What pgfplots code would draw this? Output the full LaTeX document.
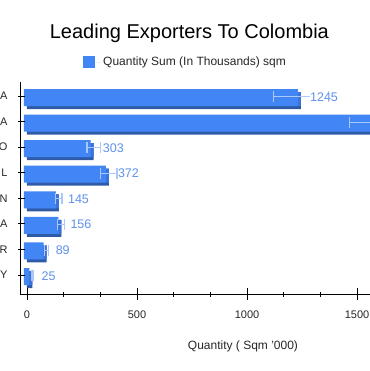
\documentclass[border=0pt]{standalone}
\usepackage{fontspec}
\setmainfont{Liberation Sans}
\usepackage{pgfplots}
\pgfplotsset{compat=1.18}
\usetikzlibrary{calc}
\definecolor{front}{RGB}{66,133,244}
\definecolor{darkb}{RGB}{46,90,168}
\definecolor{side}{RGB}{58,115,220}
\definecolor{errb}{RGB}{170,200,250}
\definecolor{lblb}{RGB}{95,145,235}
\begin{document}
\begin{tikzpicture}
\begin{axis}[
  name=ax,
  clip=false,
  scale only axis,
  width=350bp, height=212bp,
  xmin=-31.8, xmax=1559,
  ymin=-0.743, ymax=7.548,
  axis x line=bottom, axis y line=left,
  axis line style={-, black, line width=0.8bp},
  xtick={0,500,1000,1500},
  minor x tick num=2,
  ytick={0,1,2,3,4,5,6,7},
  yticklabels={Y,R,A,N,L,O,A,A},
  tick align=center,
  xtick style={black, line width=0.8bp},
  ytick style={draw=none},
  major tick length=12bp,
  minor tick length=5bp,
  /pgf/number format/1000 sep={},
  /pgf/number format/assume math mode=true,
  xticklabel style={font=\fontsize{11bp}{13bp}\selectfont, text=black!85, yshift=-7bp},
  yticklabel style={font=\fontsize{11bp}{13bp}\selectfont, text=black!85, xshift=-3bp},
  xlabel={Quantity ( Sqm '000)},
  xlabel style={at={(axis description cs:0.637,-0.245)}, anchor=center, font=\fontsize{12bp}{14bp}\selectfont, text=black!85},
  title={Leading Exporters To Colombia},
  every axis title/.style={at={(axis description cs:0.484,1.203)}, anchor=base, font=\fontsize{20bp}{24bp}\selectfont},
  legend style={draw=none, fill=none, inner sep=0pt, at={(axis description cs:0.18,1.094)}, anchor=west, font=\fontsize{12bp}{14bp}\selectfont, text=black!85},
  legend image code/.code={\fill[front] (0bp,-6bp) rectangle (12bp,6bp); \path (0bp,0bp) -- (18bp,0bp);},
]
\addplot[xbar, bar width=17bp, bar shift=-4.5bp, fill=darkb, draw=none, forget plot]
  coordinates {(1245,7) (1630,6) (303,5) (372,4) (145,3) (156,2) (89,1) (25,0)};
\addplot[xbar, bar width=14bp, bar shift=-3bp, fill=side, draw=none, forget plot]
  coordinates {(1245,7) (1630,6) (303,5) (372,4) (145,3) (156,2) (89,1) (25,0)};
\addplot[xbar, bar width=17bp, bar shift=-1.5bp, fill=front, draw=none, xshift=-3bp]
  coordinates {(1245,7) (1630,6) (303,5) (372,4) (145,3) (156,2) (89,1) (25,0)};
\addlegendentry{Quantity Sum (In Thousands) sqm}
% interval whiskers
\addplot[draw=none, mark=none, forget plot, yshift=-0.7bp,
  error bars/.cd, x dir=both, x explicit,
  error bar style={draw=errb, line width=1bp},
  error mark options={draw=errb, line width=1.2bp, mark size=5.5bp, rotate=90}]
  coordinates {(1245,7) +- (124.5,0) (1630,6) +- (163,0) (303,5) +- (30.3,0) (372,4) +- (37.2,0) (145,3) +- (14.5,0) (156,2) +- (15.6,0) (89,1) +- (8.9,0) (25,0) +- (2.5,0)};
% value labels (the label of the bar that runs past the edge is not shown)
\addplot[draw=none, mark=none, forget plot, yshift=-0.7bp,
  point meta=x,
  nodes near coords={\pgfmathprintnumber[assume math mode=true]{\pgfplotspointmeta}},
  every node near coord/.append style={anchor=west, inner sep=0pt, fill=white, xshift=9bp, text=lblb, font=\fontsize{12.5bp}{14bp}\selectfont}]
  coordinates {(1245,7) (303,5) (372,4) (145,3) (156,2) (89,1) (25,0)};
% y-axis category ticks
\addplot[only marks, mark=-, mark size=3.5bp, mark options={black, line width=0.8bp}, forget plot]
  coordinates {(-25,0) (-25,1) (-25,2) (-25,3) (-25,4) (-25,5) (-25,6) (-25,7)};
\end{axis}
\pgfresetboundingbox
\useasboundingbox ($(ax.south west)+(-20bp,-77bp)$) rectangle ($(ax.south west)+(350bp,294bp)$);
\end{tikzpicture}
\end{document}
